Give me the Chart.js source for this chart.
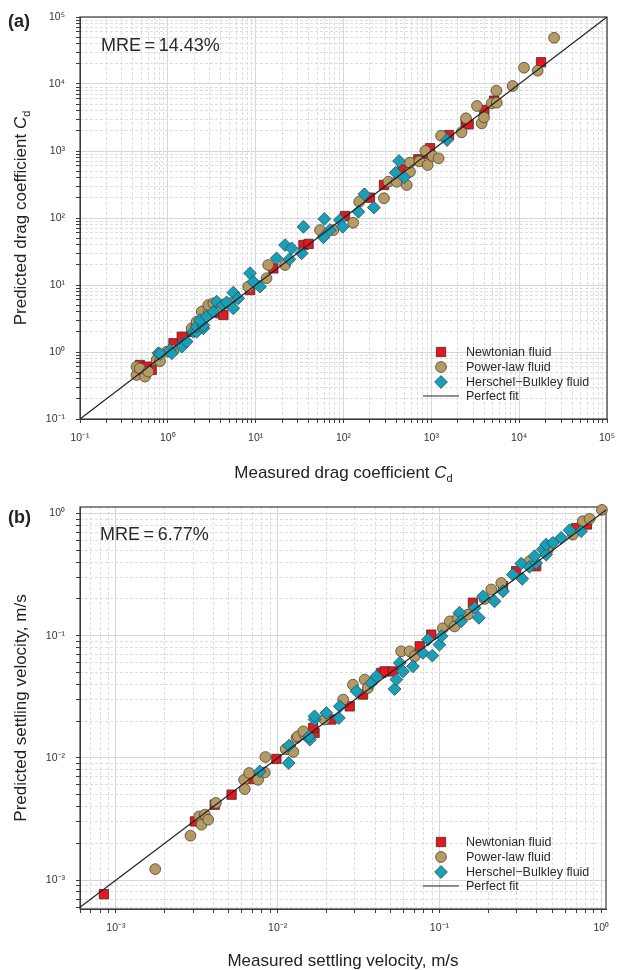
<!DOCTYPE html>
<html>
<head>
<meta charset="utf-8">
<script src="https://cdn.jsdelivr.net/npm/chart.js@4.4.1/dist/chart.umd.min.js"></script>
<style>
html,body{margin:0;padding:0;background:#fff;}
#wrap{position:relative;width:617px;height:970px;overflow:hidden;}
.pane{position:absolute;left:0;width:617px;height:485px;}
</style>
</head>
<body>
<div id="wrap">
  <div class="pane" style="top:0px"><canvas id="ca"></canvas></div>
  <div class="pane" style="top:485px"><canvas id="cb"></canvas></div>
</div>
<script>
// ---------- DATA: [measured, predicted] ----------
// Panel (a): drag coefficient Cd
const aNewtonian = [
  [0.48,0.64],[0.655,0.54],[0.574,0.604],[1.16,1.35],[1.44,1.69],[1.87,2.0],[3.93,3.79],[4.29,3.57],
  [8.63,8.41],[15.9,17.7],[35,39.5],[40,41],[104,107],[200,201],[289,311],[468,533],[711,752],
  [925,901],[967,1100],[1590,1730],[2460,2510],[2660,2510],[4010,4090],[5180,5640],[17750,21100]
];
const aPowerLaw = [
  [0.44,0.454],[0.44,0.6],[0.526,0.51],[0.55,0.43],[0.48,0.57],[0.6,0.508],[0.746,0.76],[0.815,0.73],
  [0.97,1.01],[1.16,1.07],[1.87,2.26],[2.13,2.6],[2.13,2.84],[2.43,4.0],[2.9,3.8],[2.89,5.02],
  [3.3,5.33],[3.6,4.3],[5.1,5.33],[8.24,9.44],[13.3,12.6],[13.9,19.9],[21.6,19.9],[54,66],[76.6,66],
  [129,85],[151,175],[289,197],[324,348],[403,348],[524,311],[571,491],[571,670],[730,701],[855,1010],
  [908,618],[1035,841],[1210,777],[1290,1690],[2210,1900],[2480,3080],[3310,4700],[3740,2590],
  [3980,3180],[4870,5150],[5500,7950],[5550,5260],[8430,9340],[11350,17500],[16250,15800],[25000,49000]
];
const aHB = [
  [0.78,0.96],[0.815,0.933],[1.06,1.07],[1.11,0.955],[1.44,1.27],[1.44,1.2],[1.64,1.43],[1.95,2.01],
  [2.13,2.0],[2.13,2.39],[2.54,2.26],[2.54,2.5],[2.32,3.0],[2.77,3.37],[3.3,4.0],[3.6,5.64],[4.22,5.02],
  [4.67,5.5],[5.56,4.49],[5.56,7.69],[6.34,6.32],[8.63,15.0],[9.4,11.2],[11.2,9.44],[17.3,25],
  [21.6,39.5],[24.2,24.2],[25.7,35.2],[33.4,29.7],[35,74],[59,51.5],[60.5,97],[70,66],[91,93],
  [98,74],[148,124],[173,226],[222,143],[393,474],[429,709],[489,404],[1510,1460]
];
// Panel (b): settling velocity, m/s
const bNewtonian = [
  [0.000843,0.000767],[0.00308,0.00302],[0.00408,0.00414],[0.00519,0.005],[0.00689,0.00671],
  [0.00982,0.0098],[0.012,0.01167],[0.0169,0.016],[0.01656,0.0176],[0.0215,0.0206],[0.0279,0.0264],
  [0.0337,0.033],[0.0437,0.0496],[0.0458,0.051],[0.0516,0.051],[0.0755,0.0819],[0.089,0.102],
  [0.161,0.186],[0.247,0.254],[0.298,0.337],[0.396,0.37],[0.70,0.76],[0.815,0.813]
];
const bPowerLaw = [
  [0.00175,0.00123],[0.00289,0.00231],[0.00327,0.00332],[0.00338,0.00284],[0.00355,0.00343],
  [0.00372,0.00312],[0.00415,0.00428],[0.0062,0.00662],[0.00626,0.00556],[0.00666,0.00752],
  [0.00757,0.00662],[0.00832,0.0076],[0.0084,0.01016],[0.0112,0.0118],[0.0125,0.0112],
  [0.01306,0.01456],[0.0133,0.015],[0.0147,0.0155],[0.0144,0.0165],[0.0195,0.0206],[0.0254,0.03],
  [0.0292,0.0397],[0.0345,0.0437],[0.0361,0.0373],[0.058,0.0745],[0.0654,0.0745],[0.0703,0.0678],
  [0.105,0.115],[0.116,0.131],[0.124,0.119],[0.13,0.14],[0.15,0.149],[0.19,0.2],[0.209,0.239],
  [0.241,0.27],[0.36,0.406],[0.468,0.507],[0.667,0.673],[0.769,0.865],[0.847,0.905],[1.01,1.07]
];
const bHB = [
  [0.00775,0.00775],[0.0117,0.00908],[0.01175,0.0126],[0.0158,0.0141],[0.0169,0.0206],[0.0156,0.015],
  [0.0169,0.0219],[0.02,0.0233],[0.0239,0.0212],[0.0242,0.0264],[0.0307,0.0351],[0.0379,0.041],
  [0.0408,0.0465],[0.0528,0.0366],[0.0542,0.0437],[0.0568,0.0598],[0.0595,0.051],[0.0686,0.0561],
  [0.079,0.0723],[0.0904,0.0687],[0.085,0.093],[0.1,0.0845],[0.103,0.099],[0.133,0.154],[0.136,0.131],
  [0.175,0.14],[0.165,0.169],[0.186,0.21],[0.219,0.191],[0.247,0.231],[0.325,0.292],[0.284,0.316],
  [0.32,0.389],[0.36,0.366],[0.396,0.394],[0.387,0.447],[0.435,0.507],[0.457,0.461],[0.457,0.557],
  [0.502,0.575],[0.565,0.632],[0.637,0.73],[0.751,0.716]
];
// Tick decades (exponents of major ticks)
const aXExps = [-1,0,1,2,3,4,5];
const aYExps = [-1,0,1,2,3,4,5];
const bXExps = [-3,-2,-1,0];
const bYExps = [-3,-2,-1,0];
// Axis ranges
const aRange = {xmin:0.1, xmax:1e5, ymin:0.1, ymax:1e5};
const bRange = {xmin:0.0006, xmax:1.07, ymin:0.00058, ymax:1.13};
// Texts
const seriesNames = ['Newtonian fluid','Power-law fluid','Herschel\u2212Bulkley fluid','Perfect fit'];
const aMRE = 'MRE\u2009=\u200914.43%';
const bMRE = 'MRE\u2009=\u20096.77%';

// ---------- STYLES ----------
const FONT = '"Liberation Sans", Arial, Helvetica, sans-serif';
const styles = [
  {pointStyle:'rect',    radius:6.6, bg:'#e8161e', border:'#3b2b2b'},
  {pointStyle:'circle',  radius:5.4, bg:'#b59a63', border:'#4a4232'},
  {pointStyle:'rectRot', radius:6.4, bg:'#1b9fb6', border:'#234e58'}
];
const SUP = {'0':'\u2070','1':'\u00B9','2':'\u00B2','3':'\u00B3','4':'\u2074','5':'\u2075','6':'\u2076','7':'\u2077','8':'\u2078','9':'\u2079'};
function supLabel(v){
  const e = Math.round(Math.log10(v));
  const s = String(Math.abs(e)).split('').map(c => SUP[c]).join('');
  return '10' + (e < 0 ? '\u207B' : '') + s;
}
function buildTickList(exps, min, max){
  const out = [];
  const lo = exps[0]-1, hi = exps[exps.length-1];
  for (let e = lo; e <= hi; e++){
    for (let m = 1; m <= 9; m++){
      const v = +(m*Math.pow(10,e)).toPrecision(6);
      if (v >= min*0.9999 && v <= max*1.0001) out.push({value:v, major: m===1});
    }
  }
  return out;
}
function toXY(arr){ return arr.map(p => ({x:p[0], y:p[1]})); }

function drawRich(ctx, runs, x, y){
  let total = 0;
  runs.forEach(r => { ctx.font = r.font; r.w = ctx.measureText(r.t).width; total += r.w; });
  let cx = x - total/2;
  runs.forEach(r => { ctx.font = r.font; ctx.fillText(r.t, cx, y + (r.dy||0)); cx += r.w; });
}
function markerPath(ctx, st, x, y){
  ctx.beginPath();
  if (st.pointStyle === 'circle'){ ctx.arc(x,y,st.radius,0,Math.PI*2); }
  else if (st.pointStyle === 'rect'){ const s = st.radius*Math.SQRT1_2; ctx.rect(x-s,y-s,2*s,2*s); }
  else { const r = st.radius; ctx.moveTo(x,y-r); ctx.lineTo(x+r,y); ctx.lineTo(x,y+r); ctx.lineTo(x-r,y); ctx.closePath(); }
}

function makeChart(canvasId, data, range, xExps, yExps, geo, txt){
  const xTicks = buildTickList(xExps, range.xmin, range.xmax);
  const yTicks = buildTickList(yExps, range.ymin, range.ymax);
  const tickFont = {family: FONT, size: 10.5};
  const mainGrid = {
    color: c => (c.tick && c.tick.major) ? '#d6d6d6' : 'rgba(0,0,0,0)',
    lineWidth: 1, tickColor: '#3a3a3a', tickLength: 4, tickWidth: 1
  };
  const minorGrid = {
    color: c => (c.tick && c.tick.major) ? 'rgba(0,0,0,0)' : '#dedede',
    lineWidth: 1, drawTicks: false
  };
  const labelCb = function(value, index, ticks){ return ticks[index].major ? supLabel(value) : ''; };
  const fitX = h => s => { s.height = h; s.paddingLeft = 0; s.paddingRight = 0; s.paddingTop = 0; s.paddingBottom = 0; };
  const fitY = w => s => { s.width = w; s.paddingLeft = 0; s.paddingRight = 0; s.paddingTop = 0; s.paddingBottom = 0; };

  const decoPlugin = {
    id: 'deco_' + canvasId,
    beforeDatasetsDraw(chart){
      const ctx = chart.ctx, a = chart.chartArea;
      ctx.save();
      ctx.strokeStyle = '#3a3a3a'; ctx.lineWidth = 1.2;
      ctx.strokeRect(a.left, a.top, a.right - a.left, a.bottom - a.top);
      ctx.restore();
    },
    afterDraw(chart){
      const ctx = chart.ctx, a = chart.chartArea;
      ctx.save();
      ctx.fillStyle = '#222';
      ctx.textBaseline = 'alphabetic';
      ctx.textAlign = 'left';
      ctx.font = 'bold 18px ' + FONT;
      ctx.fillText(txt.panel, 8, txt.panelY);
      ctx.font = '18px ' + FONT;
      ctx.fillStyle = '#2a2a2a';
      ctx.fillText(txt.mre, txt.mreX, txt.mreY);
      ctx.fillStyle = '#222';
      drawRich(ctx, txt.xRuns, (a.left + a.right)/2, txt.xTitleY);
      ctx.save();
      ctx.translate(26, (a.top + a.bottom)/2);
      ctx.rotate(-Math.PI/2);
      drawRich(ctx, txt.yRuns, 0, 0);
      ctx.restore();
      const lx = 441, tx = 466;
      ctx.font = '12.5px ' + FONT;
      ctx.textBaseline = 'middle';
      for (let i = 0; i < 3; i++){
        const st = styles[i], yy = txt.legY[i];
        ctx.fillStyle = st.bg; ctx.strokeStyle = st.border; ctx.lineWidth = 0.8;
        markerPath(ctx, st, lx, yy); ctx.fill(); ctx.stroke();
        ctx.fillStyle = '#2a2a2a';
        ctx.fillText(seriesNames[i], tx, yy + 0.5);
      }
      ctx.strokeStyle = '#222'; ctx.lineWidth = 1.2;
      ctx.beginPath(); ctx.moveTo(423, txt.legY[3]); ctx.lineTo(459, txt.legY[3]); ctx.stroke();
      ctx.fillStyle = '#2a2a2a';
      ctx.fillText(seriesNames[3], tx, txt.legY[3] + 0.5);
      ctx.restore();
    }
  };

  const sets = data.map((arr, i) => ({
    type: 'scatter',
    label: seriesNames[i],
    data: toXY(arr),
    pointStyle: styles[i].pointStyle,
    pointRadius: styles[i].radius,
    pointHoverRadius: styles[i].radius,
    backgroundColor: styles[i].bg,
    borderColor: styles[i].border,
    pointBorderWidth: 0.8,
    borderWidth: 0.8,
    clip: false,
    order: 3 - i
  }));
  const lo = Math.min(range.xmin, range.ymin), hi = Math.max(range.xmax, range.ymax);
  sets.push({
    type: 'line', label: seriesNames[3],
    data: [{x: lo, y: lo}, {x: hi, y: hi}],
    borderColor: '#1e1e1e', borderWidth: 1.2, pointRadius: 0, fill: false, order: 0
  });

  return new Chart(document.getElementById(canvasId), {
    type: 'scatter',
    data: { datasets: sets },
    options: {
      responsive: true, maintainAspectRatio: false, animation: false, devicePixelRatio: 1,
      layout: { padding: geo.padding, autoPadding: false },
      plugins: { legend: {display: false}, tooltip: {enabled: false} },
      events: [],
      scales: {
        x: {
          type: 'logarithmic', position: 'bottom', min: range.xmin, max: range.xmax,
          afterBuildTicks: s => { s.ticks = xTicks.map(t => ({...t})); },
          afterFit: fitX(geo.xHeight),
          grid: mainGrid,
          border: {display: true, color: '#3a3a3a', width: 1},
          ticks: { autoSkip: false, maxRotation: 0, minRotation: 0, padding: geo.xPad, color: '#333', font: tickFont, callback: labelCb }
        },
        xm: {
          type: 'logarithmic', position: 'bottom', min: range.xmin, max: range.xmax,
          afterBuildTicks: s => { s.ticks = xTicks.map(t => ({...t})); },
          afterFit: fitX(0),
          grid: minorGrid,
          border: {display: false, dash: [3, 2]},
          ticks: { display: false, autoSkip: false }
        },
        y: {
          type: 'logarithmic', position: 'left', min: range.ymin, max: range.ymax,
          afterBuildTicks: s => { s.ticks = yTicks.map(t => ({...t})); },
          afterFit: fitY(80),
          grid: mainGrid,
          border: {display: true, color: '#3a3a3a', width: 1},
          ticks: { autoSkip: false, padding: geo.yPad, color: '#333', font: tickFont, callback: labelCb }
        },
        ym: {
          type: 'logarithmic', position: 'left', min: range.ymin, max: range.ymax,
          afterBuildTicks: s => { s.ticks = yTicks.map(t => ({...t})); },
          afterFit: fitY(0),
          grid: minorGrid,
          border: {display: false, dash: [3, 2]},
          ticks: { display: false, autoSkip: false }
        }
      }
    },
    plugins: [decoPlugin]
  });
}

const T17 = '17px ' + FONT, I17 = 'italic 17px ' + FONT, S11 = '11px ' + FONT;

makeChart('ca', [aNewtonian, aPowerLaw, aHB], aRange, aXExps, aYExps,
  {padding: {top: 17, right: 10, bottom: 0, left: 0}, xHeight: 66, xPad: 8.5, yPad: 11},
  {
    panel: '(a)', panelY: 27, mre: aMRE, mreX: 101, mreY: 51, xTitleY: 478,
    xRuns: [{t:'Measured drag coefficient ', font:T17}, {t:'C', font:I17}, {t:'d', font:S11, dy:3.5}],
    yRuns: [{t:'Predicted drag coefficient ', font:T17}, {t:'C', font:I17}, {t:'d', font:S11, dy:3.5}],
    legY: [352, 367, 382, 396]
  });

makeChart('cb', [bNewtonian, bPowerLaw, bHB], bRange, bXExps, bYExps,
  {padding: {top: 22, right: 11, bottom: 0, left: 0}, xHeight: 61, xPad: 8.5, yPad: 11},
  {
    panel: '(b)', panelY: 38, mre: bMRE, mreX: 100, mreY: 54.5, xTitleY: 481,
    xRuns: [{t:'Measured settling velocity, m/s', font:T17}],
    yRuns: [{t:'Predicted settling velocity, m/s', font:T17}],
    legY: [357, 372, 387, 401]
  });
</script>
</body>
</html>
